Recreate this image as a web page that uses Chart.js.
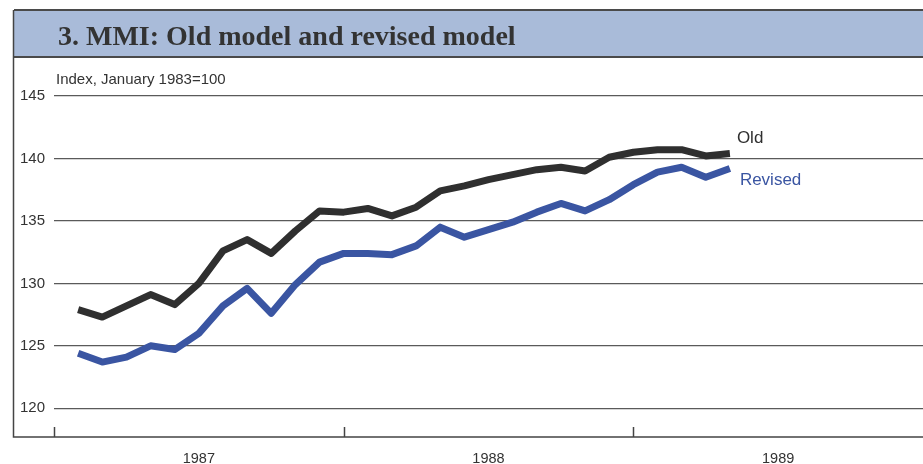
<!DOCTYPE html>
<html>
<head>
<meta charset="utf-8">
<script src="https://cdn.jsdelivr.net/npm/chart.js@4"></script>
<style>
  html, body { margin: 0; padding: 0; background: #fff; }
  #wrap { width: 923px; height: 464px; position: relative; }
</style>
</head>
<body>
<div id="wrap"><canvas id="c" width="923" height="464"></canvas></div>
<script>
// ---- data ----
const months = [
  '1987-02','1987-03','1987-04','1987-05','1987-06','1987-07','1987-08','1987-09','1987-10','1987-11','1987-12',
  '1988-01','1988-02','1988-03','1988-04','1988-05','1988-06','1988-07','1988-08','1988-09','1988-10','1988-11','1988-12',
  '1989-01','1989-02','1989-03','1989-04','1989-05'
];
const oldModel = [
  127.9, 127.3, 128.2, 129.1, 128.3, 130.0, 132.6, 133.5, 132.4, 134.2, 135.8,
  135.7, 136.0, 135.4, 136.1, 137.4, 137.8, 138.3, 138.7, 139.1, 139.3, 139.0, 140.1,
  140.5, 140.7, 140.7, 140.2, 140.4
];
const revisedModel = [
  124.4, 123.7, 124.1, 125.0, 124.7, 126.0, 128.2, 129.6, 127.6, 129.9, 131.7,
  132.4, 132.4, 132.3, 133.0, 134.5, 133.7, 134.3, 134.9, 135.7, 136.4, 135.8, 136.7,
  137.9, 138.9, 139.3, 138.5, 139.2
];
const years = ['1987', '1988', '1989'];
const yTickValues = [120, 125, 130, 135, 140, 145];
const titleText = '3. MMI: Old model and revised model';
const unitText = 'Index, January 1983=100';
const seriesNames = ['Old', 'Revised'];

// month offset from January 1987
const monthIndex = s => (parseInt(s.slice(0, 4)) - 1987) * 12 + (parseInt(s.slice(5, 7)) - 1);
const toPoints = arr => arr.map((v, i) => ({ x: monthIndex(months[i]), y: v }));

const OLD_COLOR = '#2f2f2f';
const REV_COLOR = '#3a55a2';
const GRID = '#5a5a5a';
const SANS = '"Liberation Sans", Arial, sans-serif';

const decor = {
  id: 'decor',
  beforeDraw(chart) {
    const ctx = chart.ctx;
    const W = chart.width;
    const area = chart.chartArea;
    ctx.save();
    // title bar
    ctx.fillStyle = '#a9bbd9';
    ctx.fillRect(14, 10, W - 14, 47);
    ctx.strokeStyle = '#4a4a4a';
    ctx.lineWidth = 2;
    ctx.beginPath();
    ctx.moveTo(14, 10); ctx.lineTo(W, 10);
    ctx.moveTo(14, 57); ctx.lineTo(W, 57);
    ctx.stroke();
    // frame: left vertical and bottom line
    ctx.lineWidth = 1.5;
    ctx.strokeStyle = '#444';
    ctx.beginPath();
    ctx.moveTo(13.5, 10); ctx.lineTo(13.5, area.bottom);
    ctx.lineTo(W, area.bottom);
    ctx.stroke();
    // title text
    ctx.fillStyle = '#333';
    ctx.font = 'bold 28px "Liberation Serif", "Times New Roman", serif';
    ctx.textBaseline = 'alphabetic';
    ctx.textAlign = 'left';
    ctx.fillText(titleText, 58, 45);
    // unit label
    ctx.font = '15px ' + SANS;
    ctx.fillStyle = '#333';
    ctx.textBaseline = 'middle';
    ctx.fillText(unitText, 56, 80);
    ctx.restore();
  },
  afterDraw(chart) {
    const ctx = chart.ctx;
    const xs = chart.scales.x;
    const area = chart.chartArea;
    ctx.save();
    // year boundary tick marks
    ctx.strokeStyle = '#444';
    ctx.lineWidth = 1.5;
    ctx.beginPath();
    years.forEach((_, i) => {
      const px = Math.round(xs.getPixelForValue(i * 12)) + 0.5;
      ctx.moveTo(px, area.bottom - 10);
      ctx.lineTo(px, area.bottom);
    });
    ctx.stroke();
    // series end labels
    ctx.font = '17px ' + SANS;
    ctx.textAlign = 'left';
    ctx.textBaseline = 'middle';
    const m0 = chart.getDatasetMeta(0).data;
    const m1 = chart.getDatasetMeta(1).data;
    const p0 = m0[m0.length - 1], p1 = m1[m1.length - 1];
    ctx.fillStyle = OLD_COLOR;
    ctx.fillText(seriesNames[0], p0.x + 7, p0.y - 15);
    ctx.fillStyle = REV_COLOR;
    ctx.fillText(seriesNames[1], p1.x + 10, p1.y + 12);
    ctx.restore();
  }
};

new Chart(document.getElementById('c'), {
  type: 'line',
  data: {
    datasets: [
      { label: seriesNames[0], data: toPoints(oldModel), borderColor: OLD_COLOR, borderWidth: 7,
        pointRadius: 0, tension: 0, borderCapStyle: 'butt', borderJoinStyle: 'round', fill: false },
      { label: seriesNames[1], data: toPoints(revisedModel), borderColor: REV_COLOR, borderWidth: 7,
        pointRadius: 0, tension: 0, borderCapStyle: 'butt', borderJoinStyle: 'round', fill: false }
    ]
  },
  options: {
    responsive: false,
    devicePixelRatio: 1,
    animation: false,
    layout: { padding: { top: 96, left: 0, right: 0, bottom: 0 } },
    plugins: { legend: { display: false }, tooltip: { enabled: false }, title: { display: false } },
    scales: {
      x: {
        type: 'linear', min: 0, max: 36,
        afterBuildTicks: s => { s.ticks = years.map((_, i) => ({ value: 6 + i * 12 })); },
        afterFit: s => { s.height = 27; },
        ticks: {
          autoSkip: false, maxRotation: 0, padding: 13, color: '#333',
          font: { family: SANS, size: 14.5 },
          callback: v => years[Math.round((v - 6) / 12)]
        },
        grid: { display: false, drawTicks: false },
        border: { display: false }
      },
      y: {
        type: 'linear', min: 117.7, max: 145,
        afterBuildTicks: s => { s.ticks = yTickValues.map(v => ({ value: v })); },
        afterFit: s => { s.width = 54; },
        ticks: {
          padding: 9, color: '#333',
          font: { family: SANS, size: 15 }
        },
        grid: { color: GRID, lineWidth: 1.2, drawTicks: false },
        border: { display: false }
      }
    }
  },
  plugins: [decor]
});
</script>
</body>
</html>
